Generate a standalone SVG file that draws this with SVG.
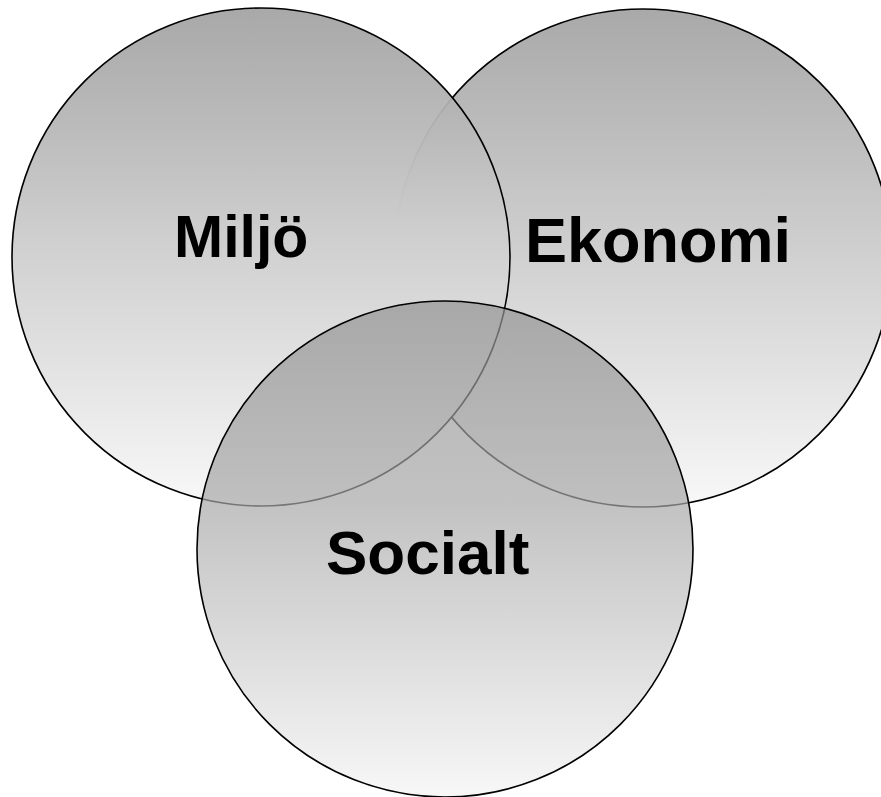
<svg xmlns="http://www.w3.org/2000/svg" width="881" height="797" viewBox="0 0 881 797">
  <style>
    .ring { stroke: #000; stroke-width: 1.6; }
    .lbl { font-family: "Liberation Sans", Arial, sans-serif; font-weight: bold; fill: #000; }
  </style>
  <defs>
    <linearGradient id="gEko" x1="0" y1="0" x2="0" y2="1">
      <stop offset="0" stop-color="#a9a9a9"/>
      <stop offset="1" stop-color="#f8f8f8"/>
    </linearGradient>
    <linearGradient id="gMil" x1="0" y1="0" x2="0" y2="1">
      <stop offset="0" stop-color="#9f9f9f" stop-opacity="0.9"/>
      <stop offset="0.45" stop-color="#cecece" stop-opacity="1"/>
      <stop offset="1" stop-color="#f8f8f8" stop-opacity="1"/>
    </linearGradient>
    <linearGradient id="gSoc" x1="0" y1="0" x2="0" y2="1">
      <stop offset="0" stop-color="#939393" stop-opacity="0.7"/>
      <stop offset="0.4" stop-color="#a7a7a7" stop-opacity="0.7"/>
      <stop offset="1" stop-color="#f4f4f4" stop-opacity="0.7"/>
    </linearGradient>
  </defs>
  <rect x="0" y="0" width="881" height="797" fill="#ffffff"/>
  <g id="ekonomi">
    <circle class="ring" cx="643" cy="258" r="249" fill="url(#gEko)"/>
    <text class="lbl" x="525" y="262" font-size="63">Ekonomi</text>
  </g>
  <g id="miljo">
    <circle class="ring" cx="261" cy="257" r="249" fill="url(#gMil)"/>
    <text class="lbl" x="174" y="257" font-size="59">Miljö</text>
  </g>
  <g id="socialt">
    <circle class="ring" cx="445" cy="549" r="248" fill="url(#gSoc)"/>
    <text class="lbl" x="326" y="574" font-size="62">Socialt</text>
  </g>
</svg>
